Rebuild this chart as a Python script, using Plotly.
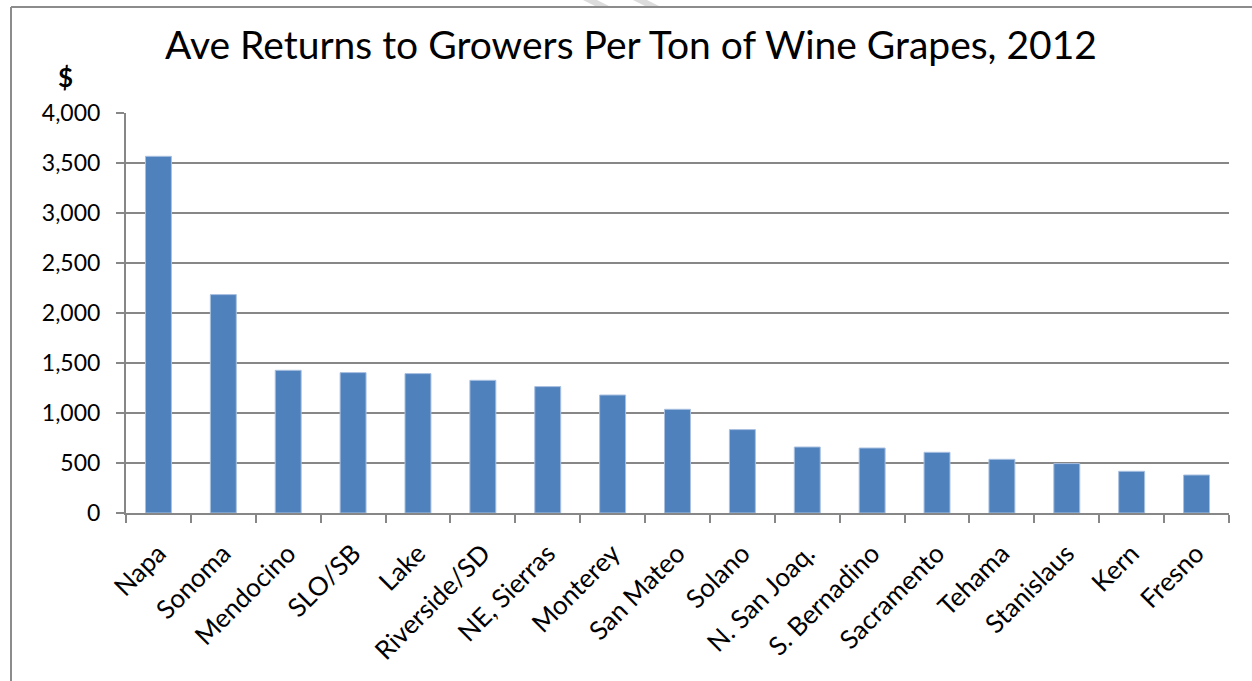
import plotly.graph_objects as go

regions = ["Napa", "Sonoma", "Mendocino", "SLO/SB", "Lake", "Riverside/SD",
           "NE, Sierras", "Monterey", "San Mateo", "Solano", "N. San Joaq.",
           "S. Bernadino", "Sacramento", "Tehama", "Stanislaus", "Kern", "Fresno"]
returns_per_ton = [3567, 2184, 1427, 1404, 1394, 1327, 1264, 1180, 1037, 834,
                   660, 650, 607, 537, 494, 417, 380]
y_ticks = [0, 500, 1000, 1500, 2000, 2500, 3000, 3500, 4000]
y_tick_text = ["0", "500", "1,000", "1,500", "2,000", "2,500", "3,000", "3,500", "4,000"]

W, H = 1252, 681
L, R, T, B = 126, 23, 113, 168
FONT = "Lato, Calibri, sans-serif"
GRID = "#878787"

fig = go.Figure(go.Bar(
    x=regions,
    y=returns_per_ton,
    marker=dict(color="#4F81BD", line=dict(color="#A9C1E0", width=1)),
))

# frame around the chart area (pixel -> paper conversion)
pw, ph = W - L - R, H - T - B
def px(x):
    return (x - L) / pw
def py(y):
    return (H - B - y) / ph

shapes = [
    dict(type="line", xref="paper", yref="paper", x0=px(11), x1=px(W + 5),
         y0=py(7), y1=py(7), line=dict(color="#8c8c8c", width=2)),
    dict(type="line", xref="paper", yref="paper", x0=px(11), x1=px(11),
         y0=py(7), y1=py(H + 5), line=dict(color="#8c8c8c", width=2)),
]
# faint diagonal strokes above the frame
for x_start in (583, 633):
    shapes.append(dict(
        type="path", xref="paper", yref="paper",
        path=f"M {px(x_start)},{py(0)} L {px(x_start + 14)},{py(0)} "
             f"L {px(x_start + 28)},{py(7)} L {px(x_start + 14)},{py(7)} Z",
        fillcolor="#dcdcdc", line=dict(width=0), layer="below"))

fig.update_layout(
    width=W, height=H,
    margin=dict(l=L, r=R, t=T, b=B, autoexpand=False),
    paper_bgcolor="white", plot_bgcolor="white",
    bargap=0.6,
    showlegend=False,
    font=dict(family=FONT, color="black"),
    title=dict(text="Ave Returns to Growers Per Ton of Wine Grapes, 2012",
               x=631 / W, xref="container", xanchor="center",
               y=1 - 45 / H, yanchor="middle",
               font=dict(family=FONT, size=39, color="black")),
    shapes=shapes,
    annotations=[dict(text="<b>$</b>", xref="paper", yref="paper",
                      x=px(65), y=py(77), xanchor="center", yanchor="middle",
                      showarrow=False, font=dict(family=FONT, size=26, color="black"))],
    xaxis=dict(
        type="category",
        tickangle=-45,
        tickson="boundaries",
        ticks="outside", ticklen=8, tickwidth=2, tickcolor=GRID,
        showline=True, linecolor=GRID, linewidth=2,
        tickfont=dict(family=FONT, size=26, color="black"),
        ticklabelstandoff=13,
        showgrid=False,
    ),
    yaxis=dict(
        range=[0, 4000],
        tickvals=y_ticks, ticktext=y_tick_text,
        ticks="outside", ticklen=8, tickwidth=2, tickcolor=GRID,
        showline=True, linecolor=GRID, linewidth=2,
        showgrid=True, gridcolor=GRID, gridwidth=2,
        zeroline=False,
        tickfont=dict(family=FONT, size=23, color="black"),
        ticklabelstandoff=11,
    ),
)

fig.write_html("out.html")
